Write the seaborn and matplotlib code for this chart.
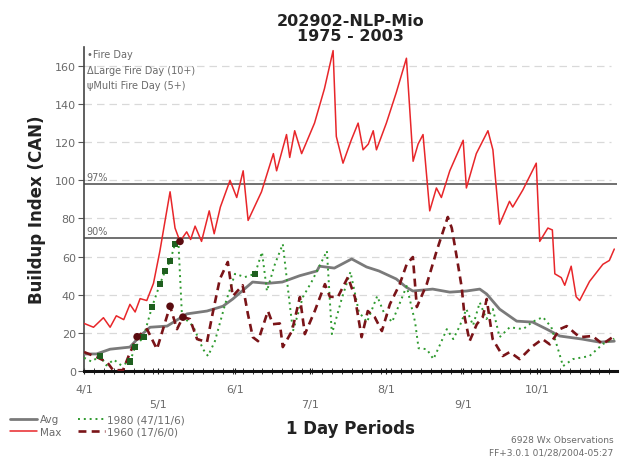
import numpy as np
import pandas as pd
import matplotlib
matplotlib.use("Agg")
import matplotlib.pyplot as plt
from matplotlib.lines import Line2D
import seaborn as sns

# ---------------- data (day offset from 4/1, value) ----------------
max_days = [0, 3.8, 7.8, 10.5, 13, 16, 18.5, 20.6, 22.6, 25.3, 28, 30.6, 32.7, 34.7, 36.7, 38.7,
            41.4, 43, 44.8, 47.4, 50.5, 52.5, 55, 58.9, 61.6, 64.2, 66.2, 71.6, 76.4, 77.7, 81.7,
            83, 85, 87.8, 93, 97, 100.5, 101.8, 104.5, 107.8, 110.6, 112.6, 114.7, 116.7, 118,
            122, 126, 130.1, 132.8, 134.8, 136.8, 139.5, 142.2, 144.2, 147.6, 153, 154.3, 158.3,
            163, 165, 167.7, 171.7, 173, 177.1, 182.5, 183.9, 187.2, 189, 190, 192.6, 194, 196.6,
            198.6, 200, 204, 209.4, 212, 214]
max_vals = [25, 23, 28, 23, 29, 27, 35, 31, 38, 37, 46, 63, 79, 94, 75, 68,
            73, 69, 76, 68, 84, 72, 86, 100, 91, 105, 79, 94, 114, 105, 124,
            112, 126, 114, 130, 148, 168, 123, 109, 121, 130, 116, 119, 126, 116,
            130, 146, 164, 110, 119, 124, 84, 96, 91, 105, 121, 96, 114,
            126, 116, 77, 89, 86, 95, 109, 68, 75, 74, 51, 49, 45, 55,
            39, 37, 47, 56, 58, 64]

avg_days = [0, 5, 10.5, 18.5, 22.6, 26.6, 33.5, 41.5, 49.6, 56, 60, 68, 74, 80, 87, 94, 95,
            101, 108, 114, 119, 126, 130, 132.7, 140.7, 147.6, 154.4, 159.7, 162.5, 167.7,
            174.6, 181, 186.7, 192, 201, 208, 214]
avg_vals = [9, 9, 11.5, 12.6, 18.4, 23, 23.6, 30, 31.5, 34, 37.8, 46.7, 46, 46.7, 50, 52.5, 55,
            54, 58.8, 54.6, 52.5, 48.3, 44, 42, 43, 41.4, 42, 43, 40.4, 32.5,
            26.2, 25.7, 22, 18.4, 16.8, 15.2, 15.7]

y1980_days = [0, 3, 6.5, 9, 12, 15, 18.5, 20.6, 24, 27.4, 30.6, 32.7, 34.7, 36.7, 38, 39.5, 44,
              48, 50, 52.8, 56.9, 60.9, 64.9, 69, 71.8, 73.8, 77, 80.2, 83, 84.3, 88.3, 91.9,
              96, 98, 100, 104, 107.5, 110.9, 114.2, 118.3, 120.9, 124.3, 127.6, 130.2, 133.6,
              135, 138.3, 141, 143.7, 146.4, 149, 151.6, 154.3, 157, 159.7, 162.4, 165, 167.7,
              171.8, 177.2, 181.2, 185.2, 188.6, 191.9, 193.3, 197.3, 204, 209.4, 214]
y1980_vals = [7, 5, 8, 3, 6, 3, 5, 12.6, 18, 33.6, 45.6, 52.5, 57.7, 66.6, 69.3, 29, 23.6,
              11.5, 7.9, 15.7, 35, 51, 49.3, 51, 62.4, 42, 56, 66.6, 35, 21, 38.8, 47,
              57.7, 63, 19.4, 38, 52, 31, 25.7, 39.3, 31, 25.7, 36.2, 44.6, 25.7,
              12, 11.5, 6.3, 14, 22, 16.8, 23.6, 32.5, 24, 36, 27.3, 32.5, 17.8,
              23, 22, 26, 28.3, 23, 8.9, 2.6, 6.3, 7.9, 14.2, 17]

y1960_days = [0, 5.2, 9.3, 11.7, 15.7, 18, 21.4, 25.4, 29.4, 33.5, 34.7, 37.5, 39.9, 42.7, 45.6,
              49.6, 52, 54.8, 58, 60, 64, 66.1, 68.1, 70.2, 74.2, 76.2, 79, 80.2, 83.9, 87.1,
              89.1, 93.1, 97.2, 99.2, 102.4, 106.5, 109.3, 112, 114.5, 117.3, 120.2, 123.4,
              127.4, 130.2, 132.7, 134.3, 138.3, 142.3, 146.8, 148.4, 150.4, 152.4, 153.6,
              155.6, 158.5, 160.9, 162.5, 164.9, 169, 171.8, 175.8, 181, 185, 188, 192, 194.8,
              200, 205.2, 209.3, 214]
y1960_vals = [10, 7.3, 4.7, 0.5, 0.5, 8, 18, 22, 11.5, 29, 34, 22, 28.3, 27.3, 16.8,
              15.2, 31, 48.3, 57.2, 39.3, 45, 30, 17.8, 15.7, 31.5, 24.6, 25, 12.6, 21, 38.8,
              19.4, 31.5, 45.6, 39, 38.8, 49.3, 38.8, 17.8, 31.5, 28.3, 21, 35,
              45.6, 56, 59.8, 33.6, 45.6, 63, 80.8, 75, 59.8, 44, 28.3,
              15.7, 24.6, 28.3, 37.8, 16.8, 7.9, 10, 6.3, 13, 16.8, 14, 22, 23.6,
              17.8, 18.4, 14.2, 18.4]

# fire-day markers
fire1980_days = [6.5, 18.5, 20.6, 24, 27.4, 30.6, 32.7, 34.7, 36.7, 69]
fire1980_vals = [8, 5, 12.6, 18, 33.6, 45.6, 52.5, 57.7, 66.6, 51]
fire1960_days = [21.4, 34.7, 39.9, 38.7]
fire1960_vals = [18, 34, 28.3, 68]

pct_levels = [98, 70]
pct_labels = ["97%", "90%"]

tick_days = [0, 30, 61, 91, 122, 153, 183]
tick_labels = ["4/1", "5/1", "6/1", "7/1", "8/1", "9/1", "10/1"]

# ---------------- figure ----------------
sns.set_style("white")
plt.rcParams['font.family'] = ['DejaVu Sans']

fig = plt.figure(figsize=(6.23, 4.64), dpi=100)
ax = fig.add_axes([0.135, 0.198, 0.855, 0.699])

gray_txt = "#6a6a6a"

# grid
for v in range(20, 161, 20):
    ax.axhline(v, color="#d9d9d9", lw=0.9, ls=(0, (6, 4)), zorder=0, xmax=0.99)
for lvl, lab in zip(pct_levels, pct_labels):
    ax.axhline(lvl, color="#707070", lw=1.4, zorder=1)
    ax.text(1, lvl + 1, lab, fontsize=7, color=gray_txt, va="bottom", ha="left")

sns.lineplot(x=avg_days, y=avg_vals, ax=ax, color="#7a7a7a", lw=2.0, sort=False,
             estimator=None, zorder=3)
sns.lineplot(x=max_days, y=max_vals, ax=ax, color="#e8262a", lw=1.1, sort=False,
             estimator=None, zorder=3)
sns.lineplot(x=y1980_days, y=y1980_vals, ax=ax, color="#2f9a2f", lw=1.4, sort=False,
             estimator=None, zorder=4, linestyle=(0, (1, 2)))
sns.lineplot(x=y1960_days, y=y1960_vals, ax=ax, color="#7a1418", lw=1.9, sort=False,
             estimator=None, zorder=4, linestyle=(0, (3, 2)))

sns.scatterplot(x=fire1980_days, y=fire1980_vals, ax=ax, color="#1f5f1f", s=22,
                marker="s", edgecolor="none", zorder=5)
sns.scatterplot(x=fire1960_days, y=fire1960_vals, ax=ax, color="#5a0c10", s=30,
                marker="o", edgecolor="none", zorder=5)

ax.set_xlim(0, 215)
ax.set_ylim(0, 170)

ax.set_yticks(range(0, 161, 20))
ax.set_yticklabels([str(v) for v in range(0, 161, 20)], fontsize=8, color=gray_txt)
ax.set_xticks(tick_days)
ax.set_xticklabels([lab if i % 2 == 0 else "\n" + lab for i, lab in enumerate(tick_labels)],
                   fontsize=8, color=gray_txt, linespacing=1.6)
ax.set_xticks(np.arange(0, 215, 4), minor=True)
ax.tick_params(axis="y", which="major", left=True, length=4, width=0.8, color="#555555", pad=2)
ax.tick_params(axis="x", which="major", bottom=True, length=5, width=0.8, color="#222222",
               direction="inout", pad=7)
ax.tick_params(axis="x", which="minor", bottom=True, length=4, width=0.7, color="#333333",
               direction="inout")

for s in ["top", "right"]:
    ax.spines[s].set_visible(False)
ax.spines["left"].set_color("#444444")
ax.spines["left"].set_linewidth(1.2)
ax.spines["bottom"].set_color("#111111")
ax.spines["bottom"].set_linewidth(2.2)

ax.set_ylabel("Buildup Index (CAN)", fontsize=12, fontweight="bold", color="#222222", labelpad=6)
ax.set_xlabel("1 Day Periods", fontsize=12, fontweight="bold", color="#222222", labelpad=7)
ax.set_title("202902-NLP-Mio\n1975 - 2003", fontsize=11.5, fontweight="bold", color="#222222",
             pad=5, linespacing=1.0)

# symbol key (top-left)
ax.text(1, 166, "\u2022Fire Day", fontsize=7, color=gray_txt, va="center")
ax.text(1, 158, "\u0394Large Fire Day (10+)", fontsize=7, color=gray_txt, va="center")
ax.text(1, 150, "\u03c8Multi Fire Day (5+)", fontsize=7, color=gray_txt, va="center")

handles = [
    Line2D([], [], color="#7a7a7a", lw=2.0),
    Line2D([], [], color="#e8262a", lw=1.1),
    Line2D([], [], color="#2f9a2f", lw=1.4, linestyle=(0, (1, 2))),
    Line2D([], [], color="#7a1418", lw=1.9, linestyle=(0, (3, 2))),
]
labels = ["Avg", "Max", "1980 (47/11/6)", "1960 (17/6/0)"]
leg = fig.legend(handles, labels, ncol=2, loc="lower left", bbox_to_anchor=(0.01, 0.048),
                 frameon=False, fontsize=7.5, handlelength=2.6, handletextpad=0.2,
                 columnspacing=1.6, labelspacing=0.2, borderaxespad=0)
for t in leg.get_texts():
    t.set_color(gray_txt)

fig.text(0.985, 0.045, "6928 Wx Observations", fontsize=6.5, color=gray_txt, ha="right")
fig.text(0.985, 0.018, "FF+3.0.1 01/28/2004-05:27", fontsize=6.5, color=gray_txt, ha="right")

fig.savefig("out.png", dpi=100)
